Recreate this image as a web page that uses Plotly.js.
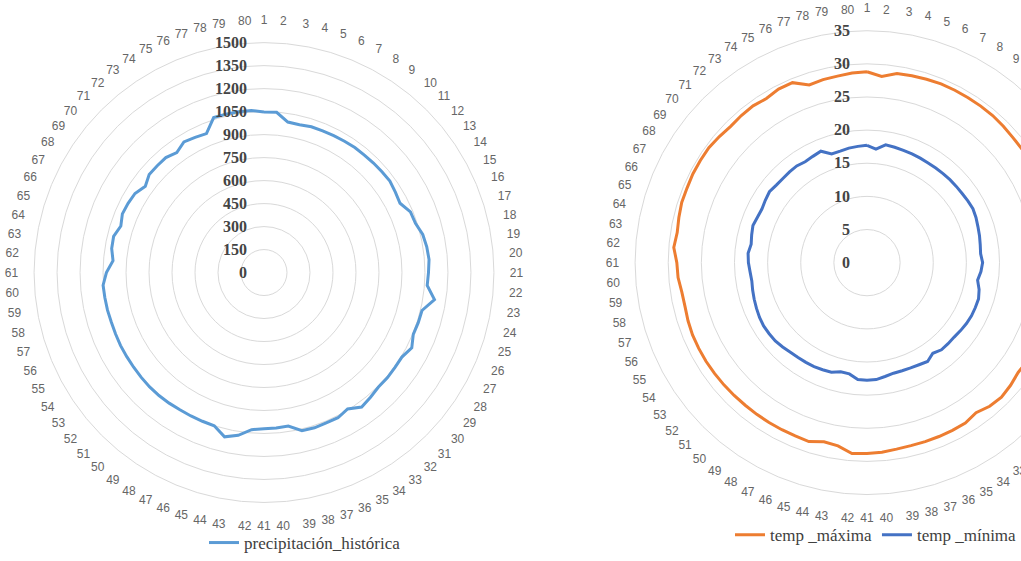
<!DOCTYPE html>
<html>
<head>
<meta charset="utf-8">
<script src="https://cdn.plot.ly/plotly-3.0.1.min.js"></script>
<style>
html,body{margin:0;padding:0;overflow:hidden;background:#fff;width:1021px;height:561px;}
#chart{width:1110px;height:561px;}
</style>
</head>
<body>
<div id="chart"></div>
<script>
const categories = ["1","2","3","4","5","6","7","8","9","10","11","12","13","14","15","16","17","18","19","20",
"21","22","23","24","25","26","27","28","29","30","31","32","33","34","35","36","37","38","39","40",
"41","42","43","44","45","46","47","48","49","50","51","52","53","54","55","56","57","58","59","60",
"61","62","63","64","65","66","67","68","69","70","71","72","73","74","75","76","77","78","79","80"];

const precipitacion = [1048,1049,994,992,1000,1000,1002,1005,1008,1008,1010,1012,1015,1005,996,1034,1039,1065,1075,1080,
1073,1068,1126,1060,1058,1054,1082,1055,1055,1058,1056,1070,1084,1044,1063,1061,1065,1061,1014,1017,
1019,1028,1075,1102,1051,1050,1050,1050,1053,1055,1055,1053,1051,1050,1050,1048,1047,1050,1051,1053,
1028,988,1006,1009,982,1000,995,987,957,985,985,986,968,1000,990,981,1063,1063,1062,1060];

const tempMaxima = [28.8,28.2,28.9,29.0,29.1,29.2,29.2,29.2,29.2,29.2,29.1,29.0,29.0,29.1,29.2,29.3,29.4,29.5,29.4,29.5,
29.4,29.3,29.2,29.0,28.9,28.8,28.6,28.4,28.2,28.5,28.7,28.5,28.0,28.4,28.4,28.4,28.4,28.4,28.5,28.7,
28.8,28.9,28.0,27.8,28.4,28.3,28.3,28.3,28.3,28.3,28.35,28.4,28.45,28.5,28.5,28.5,28.4,28.25,28.3,28.6,
28.7,29.25,29.0,29.2,29.4,29.4,29.5,29.5,29.5,29.3,29.1,29.2,29.25,29.05,29.4,29.4,28.2,28.4,28.5,28.7];

const tempMinima = [17.7,17.2,18.0,17.9,17.8,17.75,17.7,17.65,17.65,17.67,17.7,17.72,17.75,17.85,17.94,17.8,17.6,17.46,17.3,17.2,
17.45,17.25,16.9,17.4,17.7,17.7,17.7,17.6,17.45,17.3,17.3,17.3,16.9,17.5,17.3,17.2,17.15,17.16,17.4,17.7,
17.75,17.7,17.0,16.95,17.4,17.5,17.6,17.65,17.7,17.8,18.0,18.2,18.25,18.3,18.2,18.05,17.9,17.75,17.6,17.7,
17.9,18.0,17.7,17.9,18.1,17.9,17.8,18.0,18.2,18.0,17.95,18.0,18.04,17.86,18.0,18.2,17.25,17.3,17.5,17.6];

const precipTicks = [0,150,300,450,600,750,900,1050,1200,1350,1500];
const tempTicks = [0,5,10,15,20,25,30,35];

function closed(arr){ return arr.concat([arr[0]]); }

const W = 1110, H = 561;
const serif = "Liberation Serif, Times New Roman, serif";
const sans = "Liberation Sans, Arial, sans-serif";

const traces = [
  {type:'scatterpolar', mode:'lines', name:'precipitación_histórica', subplot:'polar',
   r: closed(precipitacion), theta: closed(categories),
   line:{color:'#5B9BD5', width:3}, legend:'legend'},
  {type:'scatterpolar', mode:'lines', name:'temp _máxima', subplot:'polar2',
   r: closed(tempMaxima), theta: closed(categories),
   line:{color:'#ED7D31', width:3}, legend:'legend2'},
  {type:'scatterpolar', mode:'lines', name:'temp _mínima', subplot:'polar2',
   r: closed(tempMinima), theta: closed(categories),
   line:{color:'#4472C4', width:3}, legend:'legend2'}
];

function angular(){
  return {type:'category', categoryarray: categories, direction:'clockwise', rotation:90,
    showgrid:false, showline:true, linecolor:'#d9d9d9', linewidth:1,
    ticks:'outside', ticklen:13, tickcolor:'rgba(0,0,0,0)',
    tickfont:{family:sans, size:12, color:'#666666'}};
}
function radial(max, ticks){
  return {range:[0,max], tickvals:ticks, ticktext:ticks.map(String), angle:90, tickangle:90,
    side:'counterclockwise', showline:false, ticks:'outside', ticklen:11, tickcolor:'rgba(0,0,0,0)',
    gridcolor:'#d9d9d9', gridwidth:1,
    tickfont:{family:serif, size:16, color:'#444444', weight:'bold'}};
}

const layout = {
  width:W, height:H, margin:{l:0,r:0,t:0,b:0},
  paper_bgcolor:'#fff', showlegend:true,
  polar:{domain:{x:[32/W, 496/W], y:[54/H, 518/H]}, bgcolor:'#fff',
    angularaxis: angular(), radialaxis: radial(1500, precipTicks)},
  polar2:{domain:{x:[633/W, 1101/W], y:[62/H, 530/H]}, bgcolor:'#fff',
    angularaxis: angular(), radialaxis: radial(35, tempTicks)},
  legend:{x:305/W, xanchor:'center', y:(H-548)/H, yanchor:'middle', orientation:'h',
    font:{family:serif, size:17, color:'#404040'}, bgcolor:'rgba(0,0,0,0)'},
  legend2:{x:730/W, xanchor:'left', y:(H-540)/H, yanchor:'middle', orientation:'h',
    font:{family:serif, size:17, color:'#404040'}, bgcolor:'rgba(0,0,0,0)'}
};

Plotly.newPlot('chart', traces, layout, {displayModeBar:false, staticPlot:true});
</script>
</body>
</html>
